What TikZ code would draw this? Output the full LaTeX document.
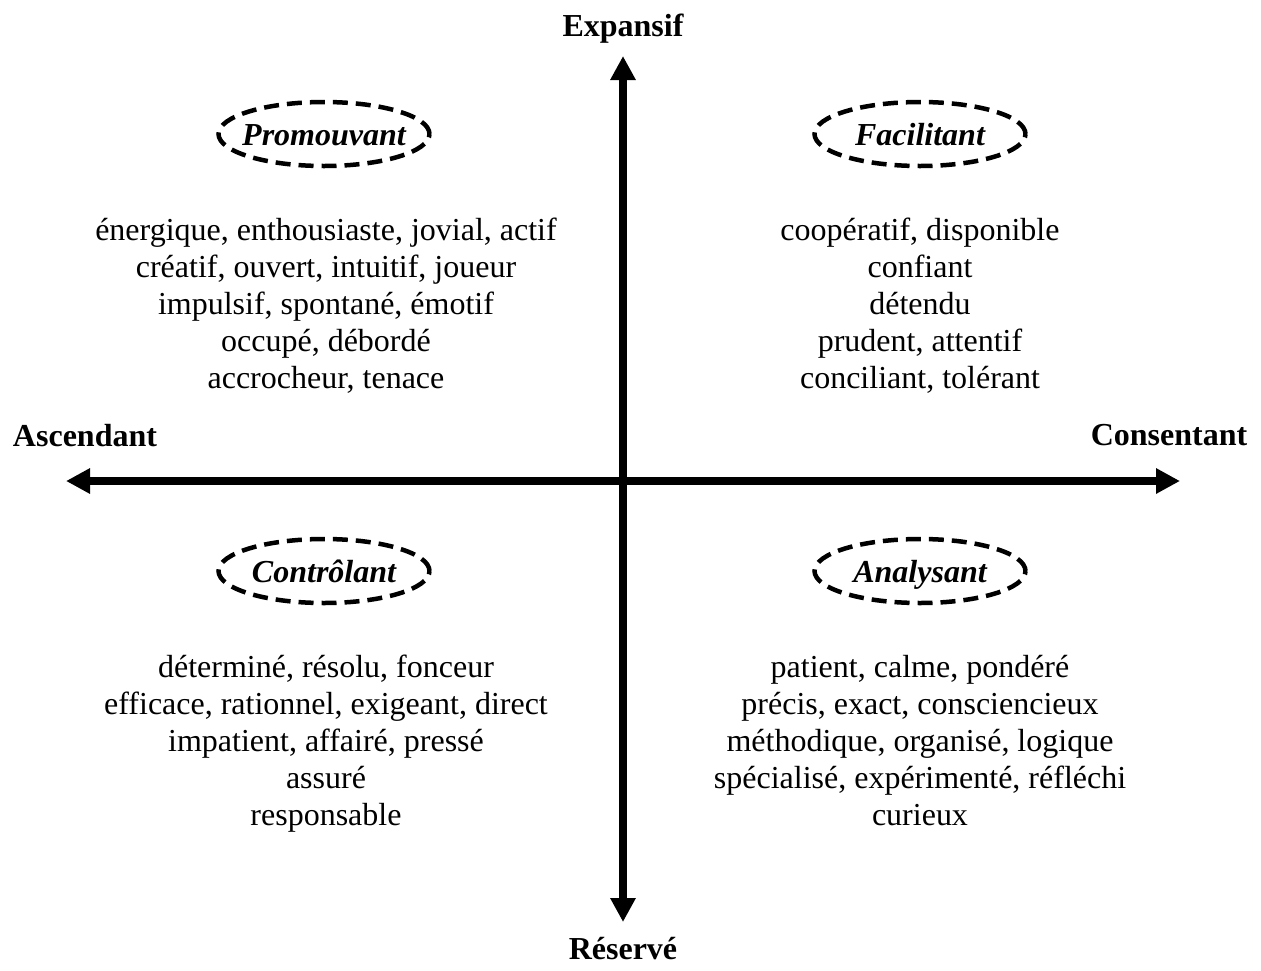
\documentclass[tikz,border=0pt]{standalone}
\usepackage{fontspec}
\setmainfont{Liberation Serif}
\usetikzlibrary{arrows.meta,shapes.geometric}
\newcommand{\ws}{\rule{0pt}{26pt}\rule[-11pt]{0pt}{11pt}}
\begin{document}
\begin{tikzpicture}[x=1pt,y=-1pt,
  axis/.style={line width=7.5pt,-{Triangle[length=24pt,width=24pt]}},
  axlabel/.style={font=\fontsize{32}{37}\selectfont\bfseries,inner sep=0pt,anchor=base},
  oval/.style={draw,ellipse,dash pattern=on 15pt off 8pt,line width=4.5pt,minimum width=211pt,minimum height=64pt,inner sep=0pt},
  ovaltext/.style={font=\fontsize{32}{37}\selectfont\bfseries\itshape,inner sep=0pt,anchor=base},
  words/.style={align=center,font=\fontsize{32}{37}\selectfont,inner sep=0pt}]
\useasboundingbox (0,0) rectangle (1261,970);
\coordinate (c) at (623,481);
\coordinate (top) at (623,56);
\coordinate (bot) at (623,922);
\coordinate (lft) at (66,481);
\coordinate (rgt) at (1180,481);
\draw[axis] (c) -- (top);
\draw[axis] (c) -- (bot);
\draw[axis] (c) -- (lft);
\draw[axis] (c) -- (rgt);
\node[axlabel] (exp) at (623,36) {Expansif};
\node[axlabel] (res) at (623,959) {Réservé};
\node[axlabel] (asc) at (85,446) {Ascendant};
\node[axlabel] (con) at (1169,445) {Consentant};
\node[oval] (pro) at (324,134) {};
\node[oval] (fac) at (920,134) {};
\node[oval] (ctl) at (324,571) {};
\node[oval] (ana) at (920,571) {};
\node[ovaltext] (prot) at ([yshift=-11pt]pro.center) {Promouvant};
\node[ovaltext] (fact) at ([yshift=-11pt]fac.center) {Facilitant};
\node[ovaltext] (ctlt) at ([yshift=-11pt]ctl.center) {Contrôlant};
\node[ovaltext] (anat) at ([yshift=-11pt]ana.center) {Analysant};
\node[words] (w1) at (326,307) {\ws énergique, enthousiaste, jovial, actif\\\ws créatif, ouvert, intuitif, joueur\\\ws impulsif, spontané, émotif\\\ws occupé, débordé\\\ws accrocheur, tenace};
\node[words] (w2) at (920,307) {\ws coopératif, disponible\\\ws confiant\\\ws détendu\\\ws prudent, attentif\\\ws conciliant, tolérant};
\node[words] (w3) at (326,743.5) {\ws déterminé, résolu, fonceur\\\ws efficace, rationnel, exigeant, direct\\\ws impatient, affairé, pressé\\\ws assuré\\\ws responsable};
\node[words] (w4) at (920,743.5) {\ws patient, calme, pondéré\\\ws précis, exact, consciencieux\\\ws méthodique, organisé, logique\\\ws spécialisé, expérimenté, réfléchi\\\ws curieux};
\end{tikzpicture}
\end{document}
